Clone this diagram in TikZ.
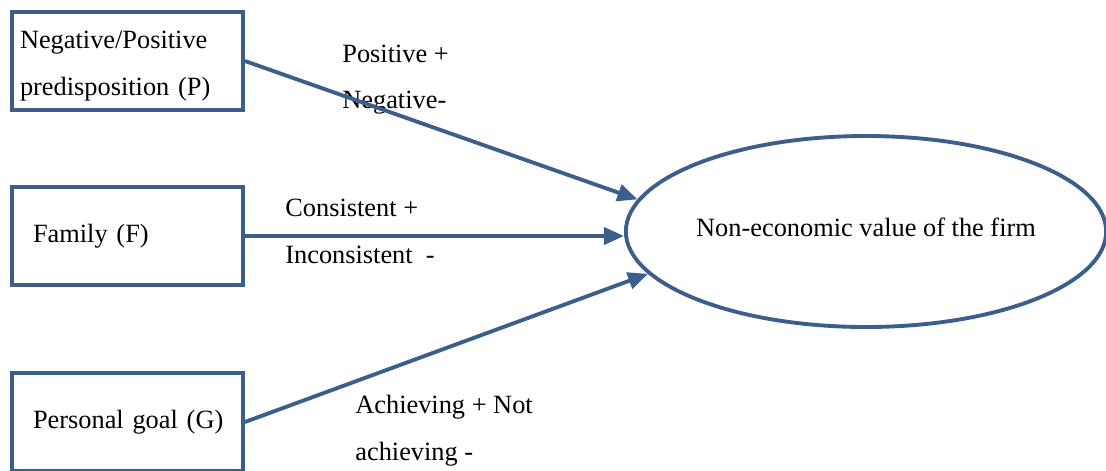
\documentclass[tikz,border=0pt]{standalone}
\usepackage{fontspec}
\setmainfont{Liberation Serif}
\usetikzlibrary{arrows.meta,shapes.geometric}
\definecolor{frameblue}{RGB}{59,94,140}

\begin{document}
\begin{tikzpicture}[
    box/.style={draw=frameblue, line width=2.2pt, minimum width=4.62cm, minimum height=1.96cm,
      text width=4.3cm, inner xsep=0.16cm, align=left},
    lbl/.style={anchor=west, align=left, inner sep=0pt},
    arr/.style={draw=frameblue, line width=2.2pt, -{Triangle[length=0.4cm,width=0.34cm]}},
    every node/.style={font=\fontsize{15}{26.6}\selectfont}
  ]
  \useasboundingbox (0.00, 0.00) rectangle (22.12, -9.40);
  \node[box] (pred) at (2.55, -1.22) {\rule{0pt}{0.55cm}Negative/Positive\\predisposition (P)};
  \node[box] (fam) at (2.55, -4.72) {\hspace*{0.26cm}Family (F)};
  \node[box] (goal) at (2.55, -8.44) {\hspace*{0.26cm}Personal goal (G)};
  \node[ellipse, draw=frameblue, line width=2.2pt, minimum width=9.50cm, minimum height=3.82cm,
    inner sep=0pt] (value) at (17.32, -4.63) {\raisebox{0.16cm}{Non-economic value of the firm}};
  \node[lbl] (predlbl) at (6.84, -1.59) {Positive +\\Negative-};
  \node[lbl] (famlbl) at (5.70, -4.63) {Consistent +\\Inconsistent\ \ -};
  \node[lbl] (goallbl) at (7.10, -8.62) {Achieving + Not\\achieving -};
  \draw[arr] (pred.east) -- (value.172);
  \draw[arr] (fam.east) -- (fam.east -| value.west);
  \draw[arr] (goal.east) -- (value.191);
\end{tikzpicture}
\end{document}
